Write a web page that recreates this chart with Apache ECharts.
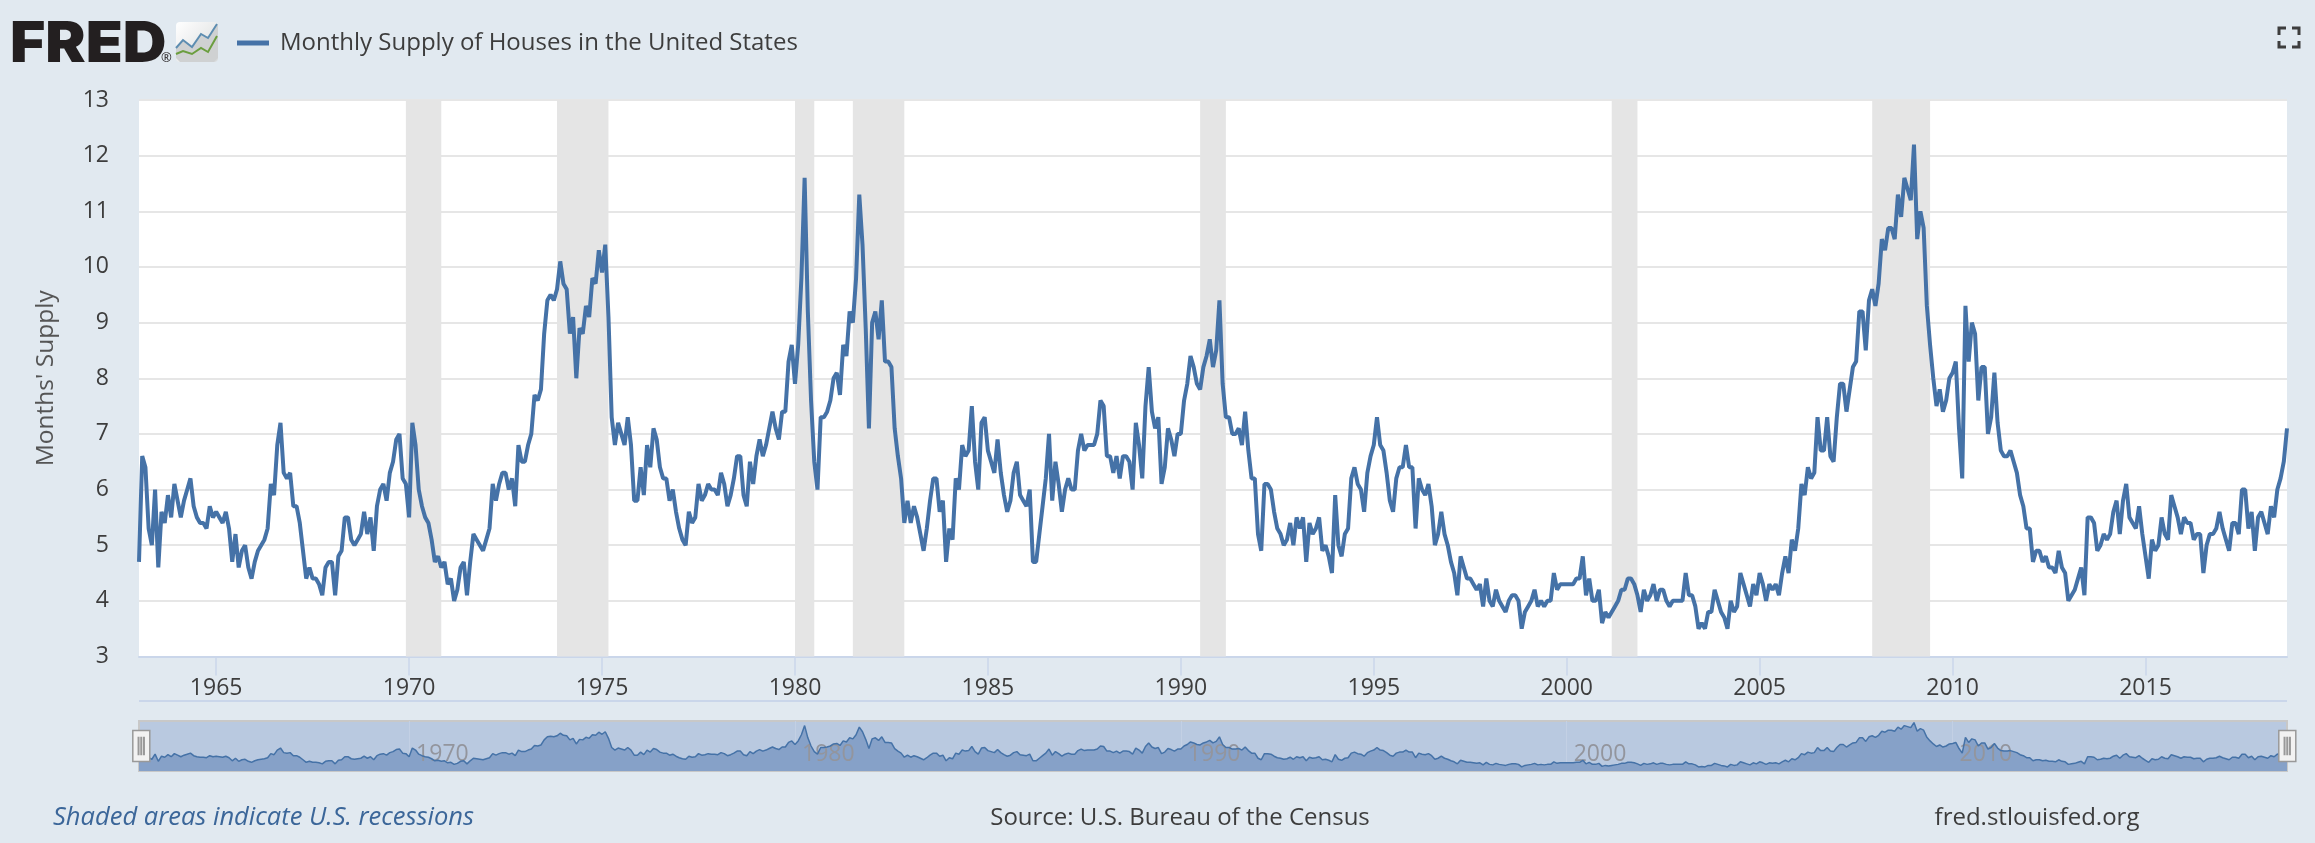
<!DOCTYPE html>
<html>
<head>
<meta charset="utf-8">
<title>Monthly Supply of Houses in the United States</title>
<script src="https://cdn.jsdelivr.net/npm/echarts@6/dist/echarts.min.js"></script>
<style>
  html, body { margin: 0; padding: 0; background: #e1e9f0; }
  #chart { width: 2315px; height: 843px; }
</style>
</head>
<body>
<div id="chart"></div>
<script>
const seriesName = "Monthly Supply of Houses in the United States";
const yAxisName = "Months' Supply";
const firstYear = 1963;

// one row per year, Jan to Dec
const monthlySupply = [
  4.7, 6.6, 6.4, 5.3, 5.0, 6.0, 4.6, 5.6, 5.4, 5.9, 5.5, 6.1,
  5.8, 5.5, 5.8, 6.0, 6.2, 5.7, 5.5, 5.4, 5.4, 5.3, 5.7, 5.5,
  5.6, 5.5, 5.4, 5.6, 5.3, 4.7, 5.2, 4.6, 4.9, 5.0, 4.6, 4.4,
  4.7, 4.9, 5.0, 5.1, 5.3, 6.1, 5.9, 6.8, 7.2, 6.3, 6.2, 6.3,
  5.7, 5.7, 5.4, 4.9, 4.4, 4.6, 4.4, 4.4, 4.3, 4.1, 4.6, 4.7,
  4.7, 4.1, 4.8, 4.9, 5.5, 5.5, 5.1, 5.0, 5.1, 5.2, 5.6, 5.2,
  5.5, 4.9, 5.7, 6.0, 6.1, 5.8, 6.3, 6.5, 6.9, 7.0, 6.2, 6.1,
  5.5, 7.2, 6.8, 6.0, 5.7, 5.5, 5.4, 5.1, 4.7, 4.8, 4.6, 4.7,
  4.3, 4.4, 4.0, 4.2, 4.6, 4.7, 4.1, 4.7, 5.2, 5.1, 5.0, 4.9,
  5.1, 5.3, 6.1, 5.8, 6.1, 6.3, 6.3, 6.0, 6.2, 5.7, 6.8, 6.5,
  6.5, 6.8, 7.0, 7.7, 7.6, 7.8, 8.8, 9.4, 9.5, 9.4, 9.6, 10.1,
  9.7, 9.6, 8.8, 9.1, 8.0, 8.9, 8.8, 9.3, 9.1, 9.8, 9.7, 10.3,
  9.9, 10.4, 9.1, 7.3, 6.8, 7.2, 7.0, 6.8, 7.3, 6.8, 5.8, 5.8,
  6.4, 5.9, 6.8, 6.4, 7.1, 6.9, 6.4, 6.2, 6.2, 5.8, 6.0, 5.6,
  5.3, 5.1, 5.0, 5.6, 5.4, 5.5, 6.1, 5.8, 5.9, 6.1, 6.0, 6.0,
  5.9, 6.3, 6.1, 5.7, 5.9, 6.2, 6.6, 6.6, 5.9, 5.7, 6.5, 6.1,
  6.6, 6.9, 6.6, 6.8, 7.1, 7.4, 7.1, 6.9, 7.4, 7.4, 8.3, 8.6,
  7.9, 8.6, 9.8, 11.6, 9.2, 7.6, 6.5, 6.0, 7.3, 7.3, 7.4, 7.6,
  8.0, 8.1, 7.7, 8.6, 8.4, 9.2, 9.0, 9.8, 11.3, 10.4, 8.9, 7.1,
  9.0, 9.2, 8.7, 9.4, 8.3, 8.3, 8.2, 7.1, 6.6, 6.2, 5.4, 5.8,
  5.4, 5.7, 5.5, 5.2, 4.9, 5.3, 5.8, 6.2, 6.2, 5.6, 5.8, 4.7,
  5.3, 5.1, 6.2, 6.0, 6.8, 6.6, 6.7, 7.5, 6.5, 6.0, 7.2, 7.3,
  6.7, 6.5, 6.3, 6.9, 6.3, 5.9, 5.6, 5.8, 6.3, 6.5, 5.9, 5.8,
  5.7, 6.0, 4.7, 4.7, 5.2, 5.7, 6.2, 7.0, 5.8, 6.5, 6.1, 5.6,
  6.0, 6.2, 6.0, 6.0, 6.7, 7.0, 6.7, 6.8, 6.8, 6.8, 7.0, 7.6,
  7.5, 6.6, 6.6, 6.3, 6.6, 6.2, 6.6, 6.6, 6.5, 6.0, 7.2, 6.8,
  6.2, 7.5, 8.2, 7.4, 7.1, 7.3, 6.1, 6.4, 7.1, 6.9, 6.6, 7.0,
  7.0, 7.6, 7.9, 8.4, 8.2, 7.9, 7.8, 8.2, 8.4, 8.7, 8.2, 8.5,
  9.4, 7.9, 7.3, 7.3, 7.0, 7.0, 7.1, 6.8, 7.4, 6.7, 6.2, 6.2,
  5.2, 4.9, 6.1, 6.1, 6.0, 5.6, 5.3, 5.2, 5.0, 5.1, 5.4, 5.0,
  5.5, 5.3, 5.5, 4.7, 5.4, 5.2, 5.3, 5.5, 4.9, 5.0, 4.8, 4.5,
  5.9, 5.0, 4.8, 5.2, 5.3, 6.2, 6.4, 6.1, 6.0, 5.6, 6.3, 6.6,
  6.8, 7.3, 6.8, 6.7, 6.3, 5.8, 5.6, 6.2, 6.4, 6.4, 6.8, 6.4,
  6.4, 5.3, 6.2, 6.0, 5.9, 6.1, 5.7, 5.0, 5.2, 5.6, 5.2, 5.0,
  4.7, 4.5, 4.1, 4.8, 4.6, 4.4, 4.4, 4.3, 4.2, 4.3, 3.9, 4.4,
  4.0, 3.9, 4.2, 4.0, 3.9, 3.8, 4.0, 4.1, 4.1, 4.0, 3.5, 3.8,
  3.9, 4.0, 4.2, 3.9, 4.0, 3.9, 4.0, 4.0, 4.5, 4.2, 4.3, 4.3,
  4.3, 4.3, 4.3, 4.4, 4.4, 4.8, 4.1, 4.4, 4.0, 4.0, 4.2, 3.6,
  3.8, 3.7, 3.8, 3.9, 4.0, 4.2, 4.2, 4.4, 4.4, 4.3, 4.1, 3.8,
  4.2, 4.0, 4.1, 4.3, 4.0, 4.2, 4.2, 4.0, 3.9, 4.0, 4.0, 4.0,
  4.0, 4.5, 4.1, 4.1, 3.9, 3.5, 3.6, 3.5, 3.8, 3.8, 4.2, 4.0,
  3.8, 3.7, 3.5, 4.0, 3.8, 3.9, 4.5, 4.3, 4.1, 3.9, 4.3, 4.1,
  4.5, 4.3, 4.0, 4.3, 4.2, 4.3, 4.1, 4.5, 4.8, 4.5, 5.1, 4.9,
  5.3, 6.1, 5.9, 6.4, 6.2, 6.3, 7.3, 6.7, 6.7, 7.3, 6.6, 6.5,
  7.3, 7.9, 7.9, 7.4, 7.8, 8.2, 8.3, 9.2, 9.2, 8.5, 9.4, 9.6,
  9.3, 9.7, 10.5, 10.3, 10.7, 10.7, 10.5, 11.3, 10.9, 11.6, 11.4, 11.2,
  12.2, 10.5, 11.0, 10.7, 9.3, 8.6, 8.0, 7.5, 7.8, 7.4, 7.6, 8.0,
  8.1, 8.3, 7.1, 6.2, 9.3, 8.3, 9.0, 8.8, 7.6, 8.2, 8.2, 7.0,
  7.3, 8.1, 7.2, 6.7, 6.6, 6.6, 6.7, 6.5, 6.3, 5.9, 5.7, 5.3,
  5.3, 4.7, 4.9, 4.9, 4.7, 4.8, 4.6, 4.6, 4.5, 4.9, 4.6, 4.5,
  4.0, 4.1, 4.2, 4.4, 4.6, 4.1, 5.5, 5.5, 5.4, 4.9, 5.0, 5.2,
  5.1, 5.2, 5.6, 5.8, 5.2, 5.8, 6.1, 5.5, 5.4, 5.3, 5.7, 5.2,
  4.8, 4.4, 5.1, 4.9, 5.0, 5.5, 5.2, 5.1, 5.9, 5.7, 5.5, 5.2,
  5.5, 5.4, 5.4, 5.1, 5.2, 5.2, 4.5, 5.0, 5.2, 5.2, 5.3, 5.6,
  5.3, 5.1, 4.9, 5.4, 5.4, 5.2, 6.0, 6.0, 5.3, 5.6, 4.9, 5.5,
  5.6, 5.4, 5.2, 5.7, 5.5, 6.0, 6.2, 6.5, 7.1,
];

const recessionStarts = ["1969-12", "1973-11", "1980-01", "1981-07", "1990-07", "2001-03", "2007-12"];
const recessionEnds = ["1970-11", "1975-03", "1980-07", "1982-11", "1991-03", "2001-11", "2009-06"];
const xTickYears = [1965, 1970, 1975, 1980, 1985, 1990, 1995, 2000, 2005, 2010, 2015];
const navigatorTickYears = [1970, 1980, 1990, 2000, 2010];

const months = monthlySupply.map((v, i) => {
  const year = firstYear + Math.floor(i / 12);
  const month = String((i % 12) + 1).padStart(2, "0");
  return year + "-" + month;
});

const fontName = "'Open Sans', sans-serif";
const textColor = "#3d3d3d";
const lineColor = "#4572a7";
const axisColor = "#cad6ea";

function isJanuaryOf(years, value) {
  return value.endsWith("-01") && years.includes(Number(value.slice(0, 4)));
}

const myChart = echarts.init(document.getElementById("chart"));

const option = {
  animation: false,
  backgroundColor: "#e1e9f0",
  textStyle: { fontFamily: fontName },
  tooltip: { trigger: "axis" },
  legend: {
    data: [seriesName],
    left: 232,
    top: 26,
    icon: "rect",
    itemWidth: 32,
    itemHeight: 5,
    textStyle: {
      fontFamily: fontName,
      fontSize: 24,
      fontWeight: 500,
      color: textColor,
      padding: [0, 0, 0, 6],
    },
  },
  grid: [
    {
      left: 139,
      right: 28,
      top: 100,
      bottom: 186.5,
      show: true,
      backgroundColor: "#fff",
      borderWidth: 0,
    },
    {
      left: 139,
      right: 28,
      top: 721,
      height: 50,
      show: true,
      backgroundColor: "#b9c9e0",
      borderColor: "#c8c8c8",
      borderWidth: 2,
    },
  ],
  xAxis: [
    {
      type: "category",
      data: months,
      boundaryGap: false,
      axisLine: { lineStyle: { color: axisColor, width: 2 } },
      axisTick: {
        length: 19,
        interval: (i, value) => isJanuaryOf(xTickYears, value),
        lineStyle: { color: axisColor, width: 1.5 },
      },
      axisLabel: {
        interval: (i, value) => isJanuaryOf(xTickYears, value),
        formatter: (value) => value.slice(0, 4),
        margin: 20,
        fontSize: 23,
        color: textColor,
      },
      splitLine: { show: false },
    },
    {
      type: "category",
      gridIndex: 1,
      data: months,
      boundaryGap: false,
      z: 3,
      axisLine: { show: false },
      axisTick: { show: false },
      axisLabel: {
        inside: true,
        interval: (i, value) => isJanuaryOf(navigatorTickYears, value),
        formatter: (value) => value.slice(0, 4),
        align: "left",
        padding: [0, 0, 0, 7],
        margin: 5,
        fontSize: 23,
        color: "#93959d",
      },
      splitLine: {
        show: true,
        interval: (i, value) => isJanuaryOf(navigatorTickYears, value),
        lineStyle: { color: "#c3d0e4", width: 1 },
      },
    },
  ],
  yAxis: [
    {
      type: "value",
      min: 3,
      max: 13,
      interval: 1,
      name: yAxisName,
      nameLocation: "middle",
      nameGap: 80,
      nameTextStyle: { fontFamily: fontName, fontSize: 24.5, color: "#555" },
      axisLine: { show: false },
      axisTick: { show: false },
      axisLabel: { margin: 30, fontSize: 23, color: textColor },
      splitLine: { lineStyle: { color: "#e6e6e6", width: 2 } },
    },
    {
      type: "value",
      gridIndex: 1,
      min: 2.7,
      max: 12.5,
      show: false,
      splitLine: { show: false },
    },
  ],
  dataZoom: [
    {
      type: "slider",
      xAxisIndex: 0,
      filterMode: "none",
      start: 0,
      end: 100,
      left: 139,
      right: 28,
      top: 721,
      height: 50,
      showDataShadow: false,
      showDetail: false,
      brushSelect: false,
      moveHandleSize: 0,
      backgroundColor: "transparent",
      fillerColor: "transparent",
      borderColor: "transparent",
      handleSize: 31,
      handleIcon:
        "path://M0 0H17V31H0Z M5.5 7V24H6V7Z M8.2 7V24H8.7V7Z M10.9 7V24H11.4V7Z",
      handleStyle: { color: "#f2f2f2", borderColor: "#999", borderWidth: 1.5 },
      emphasis: { handleStyle: { color: "#f2f2f2", borderColor: "#999" } },
    },
  ],
  series: [
    {
      name: seriesName,
      type: "line",
      data: monthlySupply,
      showSymbol: false,
      itemStyle: { color: lineColor },
      lineStyle: { color: lineColor, width: 4 },
      markArea: {
        silent: true,
        itemStyle: { color: "#e5e5e5" },
        data: recessionStarts.map((start, i) => [{ xAxis: start }, { xAxis: recessionEnds[i] }]),
      },
    },
    {
      name: "navigator",
      type: "line",
      xAxisIndex: 1,
      yAxisIndex: 1,
      data: monthlySupply,
      showSymbol: false,
      silent: true,
      lineStyle: { color: lineColor, width: 1.5 },
      areaStyle: { color: "#86a1c8", opacity: 1, origin: "start" },
    },
  ],
  graphic: [
    // FRED logo
    {
      type: "text",
      x: 10,
      y: 17,
      scaleX: 1.08,
      style: {
        text: "FRED",
        fontFamily: "Inter, sans-serif",
        fontWeight: 900,
        fontSize: 56,
        fill: "#231f20",
      },
    },
    {
      type: "text",
      x: 161,
      y: 52,
      style: { text: "®", fontFamily: fontName, fontSize: 13, fill: "#231f20" },
    },
    {
      type: "rect",
      shape: { x: 176, y: 22, width: 42, height: 40, r: 4 },
      style: {
        fill: {
          type: "linear",
          x: 0,
          y: 0,
          x2: 1,
          y2: 1,
          colorStops: [
            { offset: 0, color: "#ffffff" },
            { offset: 1, color: "#d8dadb" },
          ],
        },
      },
    },
    {
      type: "polygon",
      shape: {
        points: [[176, 48], [183, 40], [192, 47], [201, 34], [208, 38], [218, 24], [218, 58], [214, 62], [180, 62], [176, 58]],
      },
      style: { fill: "#cfd1d2" },
    },
    {
      type: "polyline",
      shape: { points: [[176, 48], [183, 40], [192, 47], [201, 34], [208, 38], [217, 24]] },
      style: { stroke: "#5d8db1", lineWidth: 2, fill: null },
    },
    {
      type: "polyline",
      shape: { points: [[176, 54], [183, 51], [192, 54], [201, 48], [208, 52], [217, 36]] },
      style: { stroke: "#6b9e3f", lineWidth: 2, fill: null },
    },
    // fullscreen icon
    {
      type: "polyline",
      shape: { points: [[2279, 35], [2279, 28], [2286, 28]] },
      style: { stroke: textColor, lineWidth: 3, fill: null },
    },
    {
      type: "polyline",
      shape: { points: [[2292, 28], [2299, 28], [2299, 35]] },
      style: { stroke: textColor, lineWidth: 3, fill: null },
    },
    {
      type: "polyline",
      shape: { points: [[2279, 41], [2279, 47], [2286, 47]] },
      style: { stroke: textColor, lineWidth: 3, fill: null },
    },
    {
      type: "polyline",
      shape: { points: [[2292, 47], [2299, 47], [2299, 41]] },
      style: { stroke: textColor, lineWidth: 3, fill: null },
    },
    // line under the x axis labels
    {
      type: "line",
      shape: { x1: 139, y1: 701, x2: 2287, y2: 701 },
      style: { stroke: axisColor, lineWidth: 2 },
    },
    // footer
    {
      type: "text",
      x: 53,
      y: 818,
      style: {
        text: "Shaded areas indicate U.S. recessions",
        fontFamily: fontName,
        fontStyle: "italic",
        fontSize: 25.5,
        fill: "#3b6699",
        verticalAlign: "middle",
      },
    },
    {
      type: "text",
      x: 1180,
      y: 818,
      style: {
        text: "Source: U.S. Bureau of the Census",
        fontFamily: fontName,
        fontSize: 24,
        fill: textColor,
        align: "center",
        verticalAlign: "middle",
      },
    },
    {
      type: "text",
      x: 2037,
      y: 818,
      style: {
        text: "fred.stlouisfed.org",
        fontFamily: fontName,
        fontSize: 24,
        fill: textColor,
        align: "center",
        verticalAlign: "middle",
      },
    },
  ],
};

myChart.setOption(option);
</script>
</body>
</html>
